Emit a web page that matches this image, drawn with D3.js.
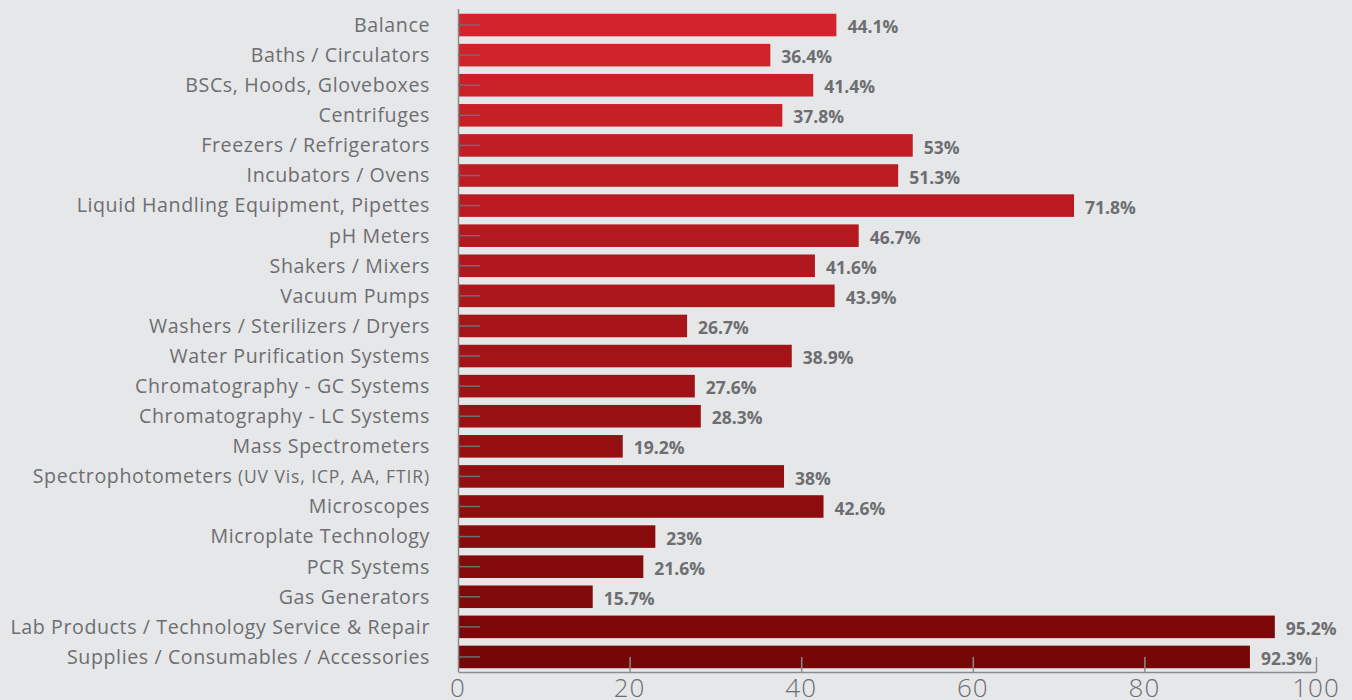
<!DOCTYPE html>
<html>
<head>
<meta charset="utf-8">
<script src="https://cdn.jsdelivr.net/npm/d3@7"></script>
<style>
  html, body { margin: 0; padding: 0; background: #e6e7e8; }
  svg { display: block; }
</style>
</head>
<body>
<svg id="chart" width="1352" height="700"></svg>
<script>
const categories = [
  "Balance",
  "Baths / Circulators",
  "BSCs, Hoods, Gloveboxes",
  "Centrifuges",
  "Freezers / Refrigerators",
  "Incubators / Ovens",
  "Liquid Handling Equipment, Pipettes",
  "pH Meters",
  "Shakers / Mixers",
  "Vacuum Pumps",
  "Washers / Sterilizers / Dryers",
  "Water Purification Systems",
  "Chromatography - GC Systems",
  "Chromatography - LC Systems",
  "Mass Spectrometers",
  "Spectrophotometers|(UV Vis, ICP, AA, FTIR)",
  "Microscopes",
  "Microplate Technology",
  "PCR Systems",
  "Gas Generators",
  "Lab Products / Technology Service & Repair",
  "Supplies / Consumables / Accessories"
];
const values = [44.1, 36.4, 41.4, 37.8, 53, 51.3, 71.8, 46.7, 41.6, 43.9, 26.7, 38.9,
  27.6, 28.3, 19.2, 38, 42.6, 23, 21.6, 15.7, 95.2, 92.3];
const xTicks = [0, 20, 40, 60, 80, 100];

const svg = d3.select("#chart");
const textGray = "#6d6e71";
const axisGray = "#8a8b8d";
const plotLeft = 458, plotRight = 1316, plotTop = 10, plotBottom = 672;

const x = d3.scaleLinear().domain([0, 100]).range([plotLeft, plotRight]);
const y = d3.scaleBand().domain(categories).range([plotTop, plotBottom])
  .paddingInner(0.25).paddingOuter(0.125);

// bars darken from top to bottom
const shade = d3.scaleLinear().domain([0, categories.length - 1])
  .range(["#d3232b", "#770606"]).interpolate(d3.interpolateRgb);

const rows = svg.append("g").selectAll("g").data(categories).join("g");

rows.append("rect")
  .attr("x", x(0) + 1)
  .attr("y", d => y(d))
  .attr("height", y.bandwidth())
  .attr("width", (d, i) => x(values[i]) - x(0) - 1)
  .attr("fill", (d, i) => shade(i));

// category labels
const labels = rows.append("text")
  .attr("x", plotLeft - 28)
  .attr("y", d => y(d) + y.bandwidth() / 2)
  .attr("dy", "0.35em")
  .attr("text-anchor", "end")
  .attr("fill", textGray)
  .style("font-family", "'Open Sans', sans-serif")
  .style("font-size", "19.6px")
  .style("letter-spacing", "0.6px");
labels.each(function(d) {
  const parts = d.split("|");
  const t = d3.select(this);
  t.append("tspan").text(parts[0]);
  if (parts[1]) t.append("tspan").style("font-size", "17.5px").style("letter-spacing", "0.9px").text(" " + parts[1]);
});

// value labels
rows.append("text")
  .attr("x", (d, i) => x(values[i]) + 11)
  .attr("y", d => y(d) + y.bandwidth() / 2 + 2)
  .attr("dy", "0.35em")
  .attr("fill", textGray)
  .style("font-family", "'Open Sans', sans-serif")
  .style("font-weight", "700")
  .style("font-size", "17.5px")
  .text((d, i) => values[i] + "%");

// left axis with short ticks drawn over the bars
const yAxis = svg.append("g").attr("transform", `translate(${plotLeft},0)`)
  .call(d3.axisRight(y).tickSize(22).tickSizeOuter(0).tickFormat(""));
yAxis.select(".domain").attr("stroke", axisGray).attr("stroke-width", 1.5)
  .attr("d", `M0.5,${plotTop - 1}V${plotBottom}`);
yAxis.selectAll(".tick line").attr("stroke", "#6d6e71").attr("stroke-width", 1.5);

// bottom axis, ticks pointing inward
const xAxis = svg.append("g").attr("transform", `translate(0,${plotBottom})`)
  .call(d3.axisTop(x).tickValues(xTicks).tickSize(15).tickSizeOuter(0).tickFormat(""));
xAxis.select(".domain").attr("stroke", axisGray).attr("stroke-width", 1.5);
xAxis.selectAll(".tick line").attr("stroke", axisGray).attr("stroke-width", 1.5);
xAxis.selectAll(".tick").filter(d => d === 0).select("line").remove();

svg.append("g").selectAll("text").data(xTicks).join("text")
  .attr("x", d => x(d))
  .attr("y", 697)
  .attr("text-anchor", "middle")
  .attr("fill", textGray)
  .style("font-family", "'Open Sans', sans-serif")
  .style("font-weight", "300")
  .style("font-size", "26px")
  .style("letter-spacing", "1px")
  .text(d => d);
</script>
</body>
</html>
